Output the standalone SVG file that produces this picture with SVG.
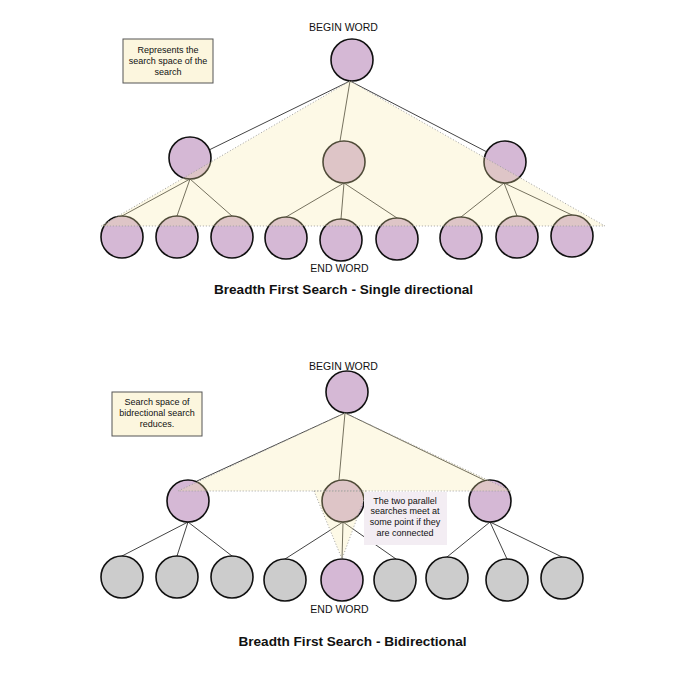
<svg xmlns="http://www.w3.org/2000/svg" width="700" height="680" viewBox="0 0 700 680">
<style>
  .edge{stroke:#444;stroke-width:1;fill:none}
  .node{stroke:#111;stroke-width:1.6}
  .p{fill:#d5b8d5}
  .g{fill:#cccccc}
  .shade{fill:#f9e9a6;fill-opacity:0.28;stroke:#a0a0a0;stroke-width:1;stroke-dasharray:1 2}
  .note{fill:#fcf6de;stroke:#555;stroke-width:1}
  .callout{fill:#f3edf3}
  text{font-family:"Liberation Sans",Arial,sans-serif;fill:#111;text-anchor:middle}
  .lbl{font-size:10.5px}
  .small{font-size:9px}
  .title{font-size:13.6px;font-weight:bold}
</style>
<rect width="700" height="680" fill="#ffffff"/>

<!-- connectors -->
<g id="connectors">
  <!-- top tree -->
  <line class="edge" x1="350" y1="81" x2="209" y2="150"/>
  <line class="edge" x1="350" y1="81" x2="340" y2="141"/>
  <line class="edge" x1="350" y1="81" x2="487" y2="152"/>
  <line class="edge" x1="190" y1="179" x2="122" y2="216"/>
  <line class="edge" x1="190" y1="179" x2="177" y2="216"/>
  <line class="edge" x1="190" y1="179" x2="232" y2="216"/>
  <line class="edge" x1="344" y1="183" x2="286" y2="217"/>
  <line class="edge" x1="344" y1="183" x2="341" y2="219"/>
  <line class="edge" x1="344" y1="183" x2="397" y2="218"/>
  <line class="edge" x1="504" y1="183" x2="461" y2="217"/>
  <line class="edge" x1="504" y1="183" x2="517" y2="216"/>
  <line class="edge" x1="504" y1="183" x2="572" y2="215"/>
  <!-- bottom tree -->
  <line class="edge" x1="345" y1="413" x2="197" y2="481"/>
  <line class="edge" x1="345" y1="413" x2="339" y2="480"/>
  <line class="edge" x1="345" y1="413" x2="486" y2="481"/>
  <line class="edge" x1="188" y1="522" x2="122" y2="556"/>
  <line class="edge" x1="188" y1="522" x2="177" y2="556"/>
  <line class="edge" x1="188" y1="522" x2="232" y2="556"/>
  <line class="edge" x1="343" y1="522" x2="285" y2="559"/>
  <line class="edge" x1="343" y1="522" x2="342" y2="559"/>
  <line class="edge" x1="343" y1="522" x2="396" y2="559"/>
  <line class="edge" x1="490" y1="522" x2="447" y2="557"/>
  <line class="edge" x1="490" y1="522" x2="507" y2="559"/>
  <line class="edge" x1="490" y1="522" x2="562" y2="557"/>
</g>

<!-- top tree nodes -->
<g id="t-root"><circle class="node p" cx="352" cy="60" r="21"/></g>
<g id="t-l"><circle class="node p" cx="190" cy="158" r="21"/></g>
<g id="t-m"><circle class="node p" cx="344" cy="162" r="21"/></g>
<g id="t-r"><circle class="node p" cx="505" cy="162" r="21"/></g>
<g id="t-leaf1"><circle class="node p" cx="122" cy="237" r="21"/></g>
<g id="t-leaf2"><circle class="node p" cx="177" cy="237" r="21"/></g>
<g id="t-leaf3"><circle class="node p" cx="232" cy="237" r="21"/></g>
<g id="t-leaf4"><circle class="node p" cx="286" cy="238" r="21"/></g>
<g id="t-leaf5"><circle class="node p" cx="341" cy="240" r="21"/></g>
<g id="t-leaf6"><circle class="node p" cx="397" cy="239" r="21"/></g>
<g id="t-leaf7"><circle class="node p" cx="461" cy="238" r="21"/></g>
<g id="t-leaf8"><circle class="node p" cx="517" cy="237" r="21"/></g>
<g id="t-leaf9"><circle class="node p" cx="572" cy="236" r="21"/></g>

<!-- bottom tree nodes -->
<g id="b-root"><circle class="node p" cx="347" cy="392" r="21"/></g>
<g id="b-l"><circle class="node p" cx="188" cy="501" r="21"/></g>
<g id="b-m"><circle class="node p" cx="343" cy="501" r="21"/></g>
<g id="b-r"><circle class="node p" cx="490" cy="501" r="21"/></g>
<g id="b-leaf1"><circle class="node g" cx="122" cy="577" r="21"/></g>
<g id="b-leaf2"><circle class="node g" cx="177" cy="577" r="21"/></g>
<g id="b-leaf3"><circle class="node g" cx="232" cy="577" r="21"/></g>
<g id="b-leaf4"><circle class="node g" cx="285" cy="580" r="21"/></g>
<g id="b-leaf5"><circle class="node p" cx="342" cy="580" r="21"/></g>
<g id="b-leaf6"><circle class="node g" cx="395" cy="580" r="21"/></g>
<g id="b-leaf7"><circle class="node g" cx="447" cy="578" r="21"/></g>
<g id="b-leaf8"><circle class="node g" cx="507" cy="580" r="21"/></g>
<g id="b-leaf9"><circle class="node g" cx="562" cy="578" r="21"/></g>

<!-- search space shading -->
<g id="search-space">
  <polygon class="shade" points="350,81 101,226 605,226"/>
  <polygon class="shade" points="345,413 178,491 511,491"/>
  <polygon class="shade" points="314,491 367,491 342,559"/>
</g>

<!-- notes -->
<g id="note-top">
  <rect class="note" x="123" y="39" width="90" height="44"/>
  <text class="small" x="168" y="52.5">Represents the</text>
  <text class="small" x="168" y="63.5">search space of the</text>
  <text class="small" x="168" y="74.5">search</text>
</g>
<g id="note-bottom">
  <rect class="note" x="112" y="392" width="90" height="44"/>
  <text class="small" x="157" y="405">Search space of</text>
  <text class="small" x="157" y="416">bidrectional search</text>
  <text class="small" x="157" y="427">reduces.</text>
</g>
<g id="callout">
  <rect class="callout" x="364" y="492" width="83" height="53"/>
  <text class="small" x="405" y="503.5">The two parallel</text>
  <text class="small" x="405" y="514">searches meet at</text>
  <text class="small" x="405" y="525">some point if they</text>
  <text class="small" x="405" y="536">are connected</text>
</g>

<!-- labels -->
<g id="labels">
  <text class="lbl" x="343.5" y="31">BEGIN WORD</text>
  <text class="lbl" x="339.5" y="272">END WORD</text>
  <text class="title" x="343.5" y="294">Breadth First Search - Single directional</text>
  <text class="lbl" x="343.5" y="370">BEGIN WORD</text>
  <text class="lbl" x="339.5" y="612.5">END WORD</text>
  <text class="title" x="352.5" y="646">Breadth First Search - Bidirectional</text>
</g>
</svg>
